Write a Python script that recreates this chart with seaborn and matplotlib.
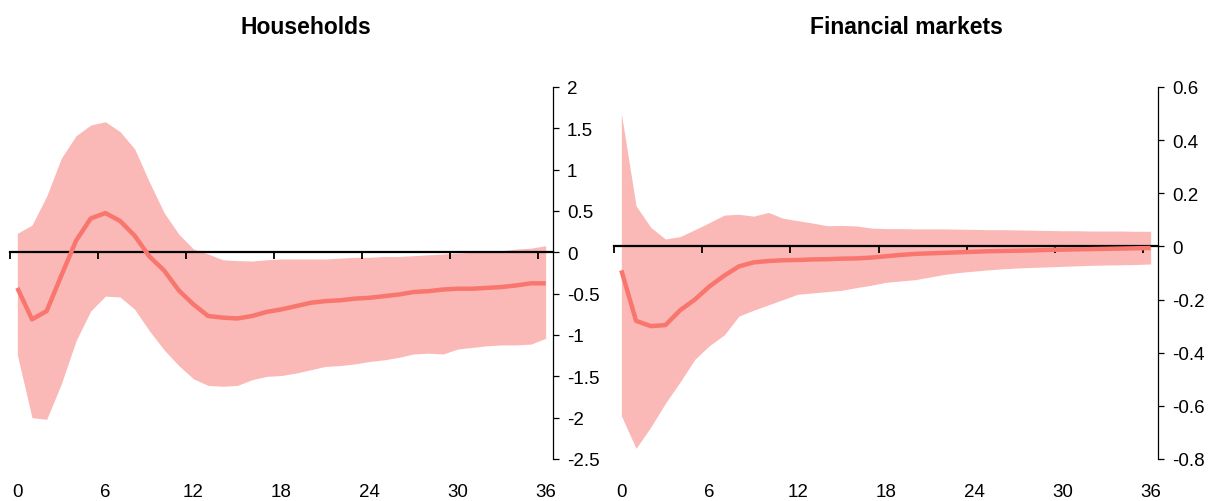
import numpy as np
import pandas as pd
import matplotlib
matplotlib.use("Agg")
import matplotlib.pyplot as plt
from matplotlib.ticker import FuncFormatter
import seaborn as sns

# Impulse responses over 0..36 months: median and confidence band
months = list(range(37))

households_mid = [-0.43, -0.81, -0.71, -0.28, 0.14, 0.41, 0.475, 0.38, 0.20, -0.05,
                  -0.22, -0.46, -0.63, -0.77, -0.79, -0.80, -0.77, -0.72, -0.69, -0.65,
                  -0.61, -0.59, -0.58, -0.56, -0.55, -0.53, -0.51, -0.48, -0.47, -0.45,
                  -0.44, -0.44, -0.43, -0.42, -0.40, -0.375, -0.375]
households_hi = [0.23, 0.33, 0.68, 1.14, 1.41, 1.54, 1.58, 1.46, 1.25, 0.85,
                 0.48, 0.22, 0.04, -0.02, -0.09, -0.10, -0.105, -0.09, -0.08, -0.08,
                 -0.08, -0.08, -0.07, -0.06, -0.06, -0.05, -0.05, -0.04, -0.03, -0.02,
                 -0.01, 0.0, 0.01, 0.02, 0.04, 0.05, 0.08]
households_lo = [-1.24, -2.0, -2.02, -1.59, -1.07, -0.71, -0.53, -0.54, -0.69, -0.95,
                 -1.18, -1.37, -1.53, -1.61, -1.62, -1.61, -1.54, -1.50, -1.49, -1.46,
                 -1.42, -1.38, -1.37, -1.35, -1.32, -1.30, -1.27, -1.23, -1.22, -1.23,
                 -1.17, -1.15, -1.13, -1.12, -1.12, -1.11, -1.04]

markets_mid = [-0.09, -0.28, -0.30, -0.296, -0.24, -0.20, -0.15, -0.11, -0.075, -0.06,
               -0.055, -0.052, -0.051, -0.049, -0.048, -0.046, -0.045, -0.042, -0.037, -0.032,
               -0.028, -0.026, -0.024, -0.022, -0.020, -0.018, -0.017, -0.016, -0.015, -0.013,
               -0.012, -0.011, -0.010, -0.009, -0.008, -0.007, -0.006]
markets_hi = [0.50, 0.153, 0.072, 0.028, 0.037, 0.063, 0.09, 0.118, 0.121, 0.114,
              0.128, 0.106, 0.097, 0.088, 0.078, 0.079, 0.077, 0.069, 0.067, 0.067,
              0.066, 0.066, 0.066, 0.065, 0.064, 0.063, 0.063, 0.062, 0.061, 0.060,
              0.059, 0.059, 0.058, 0.058, 0.058, 0.057, 0.057]
markets_lo = [-0.637, -0.76, -0.68, -0.59, -0.51, -0.425, -0.373, -0.333, -0.262, -0.24,
              -0.22, -0.20, -0.18, -0.175, -0.17, -0.165, -0.155, -0.146, -0.135, -0.13,
              -0.125, -0.115, -0.105, -0.098, -0.093, -0.088, -0.084, -0.081, -0.079, -0.077,
              -0.075, -0.073, -0.071, -0.070, -0.069, -0.068, -0.066]

titles = ["Households", "Financial markets"]
x_ticks = [0, 6, 12, 18, 24, 30, 36]
y_ticks_households = [2, 1.5, 1, 0.5, 0, -0.5, -1, -1.5, -2, -2.5]
y_ticks_markets = [0.6, 0.4, 0.2, 0, -0.2, -0.4, -0.6, -0.8]

sns.set_theme(style="white")
plt.rcParams["font.family"] = ["Liberation Sans Narrow", "Liberation Sans", "DejaVu Sans"]
plt.rcParams["axes.unicode_minus"] = False

LINE = "#F8766D"
BAND = "#FAB9B6"

fig = plt.figure(figsize=(12.08, 5.02), dpi=100)
fig.patch.set_facecolor("white")

panels = [
    (titles[0], households_mid, households_lo, households_hi, y_ticks_households,
     [10 / 1208, 1 - 460 / 502, 543 / 1208, 372 / 502], 0.545),
    (titles[1], markets_mid, markets_lo, markets_hi, y_ticks_markets,
     [614 / 1208, 1 - 460 / 502, 544 / 1208, 372 / 502], 0.538),
]

for title, mid, lo, hi, yt, rect, tx in panels:
    ax = fig.add_axes(rect)
    ax.set_facecolor("white")
    df = pd.DataFrame({"month": months, "mid": mid, "lo": lo, "hi": hi})

    ax.fill_between(df["month"], df["lo"], df["hi"], color=BAND, linewidth=0, zorder=1)
    sns.lineplot(data=df, x="month", y="mid", ax=ax, color=LINE, linewidth=3.2,
                 zorder=3, solid_joinstyle="round", solid_capstyle="butt")

    ax.set_xlim(-0.5, 36.5)
    ax.set_ylim(min(yt), max(yt))
    ax.set_xlabel("")
    ax.set_ylabel("")
    ax.grid(False)

    # month labels along the bottom, no tick marks
    ax.set_xticks(x_ticks)
    ax.set_xticklabels([str(v) for v in x_ticks])
    ax.tick_params(axis="x", length=0, pad=17, labelsize=13.5, colors="black")

    # value axis on the right
    ax.yaxis.tick_right()
    ax.set_yticks(yt)
    ax.yaxis.set_major_formatter(FuncFormatter(lambda v, p: f"{v:g}"))
    ax.tick_params(axis="y", direction="out", length=4, width=0.9, pad=6,
                   labelsize=13.5, colors="black")
    for side in ["left", "top", "bottom"]:
        ax.spines[side].set_visible(False)
    ax.spines["right"].set_visible(True)
    ax.spines["right"].set_color("black")
    ax.spines["right"].set_linewidth(0.9)

    # zero line with category-boundary tick marks
    sec = ax.secondary_xaxis(0, transform=ax.transData)
    sec.set_zorder(2)
    sec.set_xticks(np.arange(-0.5, 37, 6))
    sec.set_xticklabels([])
    sec.tick_params(axis="x", direction="out", length=5, width=1.3, colors="black")
    sec.spines["bottom"].set_linewidth(1.6)
    sec.spines["bottom"].set_color("black")

    ax.text(tx, 1 + 60 / 372, title, transform=ax.transAxes, ha="center", va="center",
            fontsize=16.5, fontweight="bold", color="black")

fig.savefig("out.png", dpi=100, facecolor="white")
